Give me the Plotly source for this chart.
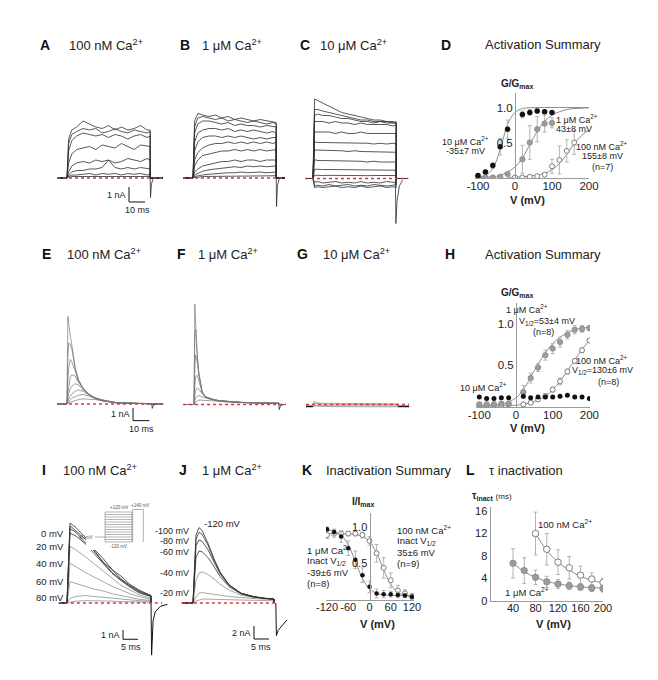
import plotly.graph_objects as go

W, H = 658, 680
FONT = "Liberation Sans, Arial, sans-serif"
INK = "#222222"
TRACE_DARK = "#2e2e2e"
TRACE_GRAY = "#767676"
FIT_GRAY = "#8c8c8c"
ERR_GRAY = "#b4b4b4"
AXIS_GRAY = "#9a9a9a"
RED = "#d23b3b"

# ── data ────────────────────────────────────────────────────────────────────

# A-C: activation sweeps, sample times (ms) of a 52 ms step, current (nA)
T_ACT = [0, 1, 3, 6, 10, 14, 18, 22, 26, 30, 34, 38, 42, 46, 50, 52]
A_SWEEPS = [
    [0, 2.6, 3.2, 3.4, 3.8, 3.6, 3.4, 3.3, 3.5, 3.2, 3.4, 3.2, 3.3, 3.5, 3.2, 3.2],
    [0, 2.3, 2.9, 3.1, 3.3, 3.2, 3.3, 3.0, 3.1, 3.3, 3.1, 3.0, 3.2, 3.1, 3.0, 3.1],
    [0, 1.8, 2.5, 2.8, 3.0, 2.9, 2.8, 2.9, 2.7, 2.9, 2.8, 2.6, 2.8, 2.9, 2.7, 2.8],
    [0, 1.0, 1.6, 1.9, 2.0, 2.1, 1.9, 2.2, 2.1, 2.0, 2.3, 2.1, 1.9, 2.2, 2.1, 2.1],
    [0, 0.4, 0.8, 1.0, 1.1, 1.0, 1.2, 1.1, 1.2, 1.0, 1.1, 1.3, 1.2, 1.1, 1.3, 1.2],
    [0, 0.2, 0.4, 0.5, 0.5, 0.6, 0.6, 0.7, 1.2, 0.7, 0.6, 0.7, 0.6, 0.7, 0.6, 0.6],
    [0, 0.1, 0.2, 0.2, 0.25, 0.3, 0.2, 0.3, 0.25, 0.3, 0.2, 0.3, 0.25, 0.3, 0.2, 0.25],
    [0, 0.05, 0.1, 0.1, 0.05, 0.1, 0.1, 0.05, 0.1, 0.1, 0.05, 0.1, 0.1, 0.1, 0.05, 0.1],
]
B_SWEEPS = [
    [0, 3.8, 4.3, 4.2, 4.1, 4.2, 4.0, 4.1, 3.9, 4.0, 3.9, 3.8, 3.9, 3.8, 3.7, 3.7],
    [0, 3.4, 4.0, 4.1, 4.0, 3.9, 4.0, 3.8, 3.9, 3.8, 3.7, 3.8, 3.7, 3.6, 3.7, 3.6],
    [0, 3.0, 3.6, 3.8, 3.8, 3.7, 3.6, 3.7, 3.5, 3.6, 3.5, 3.5, 3.4, 3.5, 3.4, 3.4],
    [0, 2.4, 3.0, 3.2, 3.3, 3.3, 3.2, 3.3, 3.1, 3.2, 3.1, 3.2, 3.1, 3.0, 3.1, 3.0],
    [0, 1.8, 2.4, 2.7, 2.8, 2.8, 2.7, 2.8, 2.7, 2.8, 2.7, 2.6, 2.7, 2.6, 2.7, 2.7],
    [0, 1.2, 1.7, 2.0, 2.2, 2.3, 2.3, 2.4, 2.3, 2.4, 2.3, 2.4, 2.3, 2.4, 2.3, 2.4],
    [0, 0.8, 1.2, 1.5, 1.6, 1.7, 1.8, 1.8, 1.9, 1.8, 1.9, 1.8, 1.9, 1.8, 1.9, 1.9],
    [0, 0.4, 0.6, 0.8, 0.9, 1.0, 1.1, 1.1, 1.2, 1.1, 1.2, 1.2, 1.1, 1.2, 1.2, 1.2],
    [0, 0.2, 0.3, 0.45, 0.55, 0.6, 0.7, 0.7, 0.75, 0.7, 0.8, 0.75, 0.8, 0.75, 0.8, 0.8],
    [0, 0.1, 0.15, 0.2, 0.25, 0.3, 0.3, 0.35, 0.35, 0.4, 0.35, 0.4, 0.4, 0.35, 0.4, 0.4],
    [0, 0.05, 0.05, 0.1, 0.1, 0.1, 0.15, 0.1, 0.15, 0.15, 0.1, 0.15, 0.15, 0.15, 0.1, 0.15],
]
C_SWEEPS = [
    [0, 5.3, 5.2, 5.0, 4.8, 4.6, 4.4, 4.3, 4.2, 4.1, 4.0, 3.9, 3.9, 3.8, 3.8, 3.7],
    [0, 4.6, 4.6, 4.5, 4.4, 4.3, 4.2, 4.1, 4.0, 3.9, 3.9, 3.8, 3.8, 3.8, 3.7, 3.8],
    [0, 4.2, 4.3, 4.2, 4.2, 4.1, 4.0, 4.0, 3.9, 3.8, 3.8, 3.7, 3.8, 3.7, 3.7, 3.7],
    [0, 3.8, 3.8, 3.8, 3.7, 3.8, 3.7, 3.7, 3.6, 3.7, 3.6, 3.6, 3.6, 3.6, 3.5, 3.6],
    [0, 3.1, 3.1, 3.1, 3.1, 3.0, 3.1, 3.0, 3.0, 3.1, 3.0, 3.0, 3.0, 3.0, 3.0, 3.0],
    [0, 2.45, 2.4, 2.4, 2.4, 2.35, 2.4, 2.35, 2.4, 2.35, 2.35, 2.3, 2.35, 2.3, 2.35, 2.3],
    [0, 1.9, 1.9, 1.85, 1.9, 1.85, 1.85, 1.8, 1.85, 1.8, 1.8, 1.8, 1.8, 1.75, 1.8, 1.75],
    [0, 1.25, 1.2, 1.2, 1.2, 1.2, 1.15, 1.2, 1.15, 1.15, 1.1, 1.15, 1.1, 1.1, 1.1, 1.1],
    [0, 0.62, 0.6, 0.6, 0.6, 0.6, 0.58, 0.6, 0.58, 0.58, 0.56, 0.58, 0.56, 0.56, 0.56, 0.55],
    [0, 0.22, 0.2, 0.2, 0.21, 0.2, 0.2, 0.19, 0.2, 0.2, 0.19, 0.2, 0.19, 0.2, 0.19, 0.2],
    [0, -0.25, -0.2, -0.3, -0.25, -0.2, -0.3, -0.25, -0.3, -0.2, -0.3, -0.25, -0.3, -0.2, -0.25, -0.3],
    [0, -0.5, -0.45, -0.5, -0.4, -0.5, -0.45, -0.4, -0.5, -0.45, -0.5, -0.4, -0.45, -0.5, -0.45, -0.4],
    [0, -0.6, -0.55, -0.6, -0.55, -0.5, -0.6, -0.55, -0.6, -0.5, -0.6, -0.55, -0.5, -0.6, -0.55, -0.6],
]
A_TAIL_T, A_TAIL_I = [52, 52.2, 52.8, 54], [0, -1.3, -0.4, 0]
B_TAIL_T, B_TAIL_I = [52, 52.2, 52.8, 54], [0, -1.9, -0.5, 0]
C_TAIL_T, C_TAIL_I = [51.5, 51.8, 52.5, 54, 56], [0, -3.0, -1.5, -0.5, -0.1]

# E-G: transient currents, sample times (ms), current (nA)
T_TRANS = [0, 0.5, 1, 2, 3, 5, 7, 10, 13, 17, 22, 30, 40, 52]
E_SWEEPS = [
    [0, 6.9, 6.3, 5.4, 4.6, 2.9, 1.9, 1.2, 0.8, 0.45, 0.25, 0.1, 0.05, 0.0],
    [0, 3.5, 4.8, 4.7, 4.3, 2.8, 1.9, 1.2, 0.8, 0.45, 0.25, 0.1, 0.05, 0.0],
    [0, 1.8, 2.8, 3.5, 3.3, 2.6, 1.8, 1.2, 0.8, 0.45, 0.25, 0.1, 0.05, 0.0],
    [0, 0.8, 1.4, 2.1, 2.3, 2.2, 1.7, 1.2, 0.8, 0.5, 0.25, 0.1, 0.05, 0.0],
    [0, 0.4, 0.8, 1.2, 1.4, 1.6, 1.5, 1.1, 0.8, 0.5, 0.3, 0.1, 0.05, 0.0],
    [0, 0.2, 0.4, 0.6, 0.8, 1.0, 1.1, 1.0, 0.75, 0.5, 0.3, 0.12, 0.05, 0.0],
    [0, 0.1, 0.2, 0.35, 0.45, 0.6, 0.7, 0.75, 0.65, 0.45, 0.3, 0.12, 0.05, 0.0],
    [0, 0.05, 0.1, 0.15, 0.2, 0.3, 0.35, 0.4, 0.4, 0.35, 0.25, 0.1, 0.05, 0.0],
]
F_SWEEPS = [
    [0, 7.9, 6.3, 3.9, 2.5, 1.0, 0.6, 0.45, 0.35, 0.28, 0.22, 0.16, 0.12, 0.1],
    [0, 5.5, 5.9, 3.8, 2.4, 1.0, 0.6, 0.45, 0.35, 0.28, 0.22, 0.16, 0.12, 0.1],
    [0, 3.0, 3.9, 3.3, 2.3, 1.0, 0.6, 0.45, 0.35, 0.28, 0.22, 0.16, 0.12, 0.1],
    [0, 1.5, 2.2, 2.3, 1.9, 0.95, 0.6, 0.45, 0.35, 0.28, 0.22, 0.16, 0.12, 0.1],
    [0, 0.7, 1.1, 1.3, 1.2, 0.85, 0.6, 0.45, 0.35, 0.28, 0.22, 0.16, 0.12, 0.1],
    [0, 0.3, 0.5, 0.65, 0.7, 0.6, 0.5, 0.4, 0.33, 0.27, 0.2, 0.15, 0.12, 0.1],
    [0, 0.1, 0.2, 0.3, 0.35, 0.35, 0.33, 0.3, 0.27, 0.22, 0.18, 0.14, 0.11, 0.1],
]
G_HOLD = -0.15
G_SWEEPS = [
    [-0.15, 0.25, 0.2, 0.15, 0.12, 0.1, 0.1, 0.08, 0.08, 0.06, 0.06, 0.05, 0.05, 0.05],
    [-0.15, 0.1, 0.08, 0.06, 0.05, 0.04, 0.03, 0.02, 0.02, 0.01, 0.0, 0.0, -0.01, -0.01],
    [-0.15, -0.05, -0.06, -0.06, -0.07, -0.08, -0.08, -0.09, -0.1, -0.1, -0.1, -0.1, -0.11, -0.11],
    [-0.15, -0.12, -0.13, -0.14, -0.15, -0.15, -0.16, -0.16, -0.17, -0.17, -0.17, -0.18, -0.18, -0.18],
]
E_TAIL_T, E_TAIL_I = [52, 52.3, 53, 55], [0, -0.35, -0.1, 0]
F_TAIL_T, F_TAIL_I = [52, 52.3, 53, 55], [0, -0.4, -0.1, 0]

# I-J: currents after prepulses, sample times (ms), current (nA)
T_I = [0, 1, 3, 6, 9, 12, 15, 18, 21, 24, 27, 28]
I_SWEEPS = [
    [0, 8.6, 8.1, 7.1, 5.8, 4.8, 3.6, 2.9, 2.0, 1.4, 0.9, 0.8],
    [0, 8.3, 7.7, 6.9, 5.7, 4.4, 3.6, 2.6, 1.9, 1.3, 0.9, 0.8],
    [0, 8.0, 7.6, 6.5, 5.6, 4.4, 3.3, 2.5, 1.8, 1.2, 0.8, 0.7],
    [0, 7.5, 7.2, 6.4, 5.3, 4.2, 3.2, 2.4, 1.7, 1.1, 0.8, 0.7],
    [0, 6.1, 5.7, 5.0, 4.2, 3.4, 2.6, 1.9, 1.4, 0.9, 0.6, 0.5],
    [0, 4.3, 3.9, 3.3, 2.8, 2.3, 1.8, 1.4, 1.0, 0.7, 0.5, 0.4],
    [0, 2.3, 2.1, 1.8, 1.5, 1.3, 1.0, 0.8, 0.6, 0.4, 0.3, 0.3],
    [0, 0.5, 0.7, 0.8, 0.7, 0.6, 0.5, 0.4, 0.3, 0.25, 0.2, 0.2],
    [0, 0.1, 0.2, 0.25, 0.25, 0.2, 0.2, 0.15, 0.12, 0.1, 0.1, 0.1],
]
I_LABELS = ["0 mV", "20 mV", "40 mV", "60 mV", "80 mV"]
I_LABEL_NA = [7.5, 6.1, 4.3, 2.26, 0.54]
I_TAIL_T = [28, 28.2, 28.7, 29.4, 31.1, 33.5]
I_TAIL_I = [0, -5.6, -1.9, -0.96, -0.36, -0.14]

T_J = [0, 1, 2, 3, 5, 7, 9, 12, 16, 20, 24, 27]
J_SWEEPS = [
    [0, 10.5, 11.6, 11.2, 9.2, 6.8, 4.8, 2.8, 1.5, 1.0, 0.7, 0.6],
    [0, 9.8, 10.9, 10.6, 8.9, 6.6, 4.7, 2.8, 1.5, 1.0, 0.7, 0.6],
    [0, 8.8, 9.7, 9.5, 8.2, 6.3, 4.5, 2.7, 1.5, 1.0, 0.7, 0.6],
    [0, 7.0, 8.0, 7.9, 7.0, 5.6, 4.1, 2.5, 1.4, 0.9, 0.7, 0.6],
    [0, 3.5, 4.6, 4.8, 4.4, 3.7, 2.9, 2.0, 1.2, 0.9, 0.7, 0.6],
    [0, 1.0, 1.5, 1.6, 1.5, 1.4, 1.2, 1.0, 0.8, 0.7, 0.6, 0.5],
    [0, 0.3, 0.5, 0.6, 0.6, 0.6, 0.55, 0.5, 0.45, 0.4, 0.4, 0.35],
]
J_LABELS = ["-100 mV", "-80 mV", "-60 mV", "-40 mV", "-20 mV"]
J_LABEL_NA = [11.15, 9.55, 7.9, 4.6, 1.5]
J_TAIL_T, J_TAIL_I = [27.6, 27.8, 28.4, 31.3], [0, -5.0, -4.2, -2.6]

# voltage protocol inset (mV)
PROTO_HOLD = -80
PROTO_STEPS = [-120, -100, -80, -60, -40, -20, 0, 20, 40, 60, 80, 100, 120]
PROTO_TEST = 140

# D: activation, 100 nM / 1 uM / 10 uM Ca2+
D_10UM_V = [-100, -80, -60, -40, -20, 20, 40, 60, 80, 100]
D_10UM_G = [0.03, 0.08, 0.17, 0.44, 0.69, 0.90, 0.93, 0.95, 0.94, 0.93]
D_10UM_E = [0.02, 0.02, 0.04, 0.12, 0.13, 0.05, 0.04, 0.03, 0.02, 0.02]
D_1UM_V = [-100, -80, -60, -40, -20, 20, 40, 60, 80, 100]
D_1UM_G = [0.0, 0.0, 0.0, 0.01, 0.05, 0.26, 0.50, 0.69, 0.77, 0.78]
D_1UM_E = [0, 0, 0, 0.01, 0.02, 0.20, 0.24, 0.18, 0.12, 0.07]
D_100NM_V = [0, 20, 40, 60, 80, 100, 120, 140, 160]
D_100NM_G = [0.0, 0.0, 0.01, 0.02, 0.04, 0.16, 0.25, 0.38, 0.50]
D_100NM_E = [0, 0, 0, 0.01, 0.02, 0.10, 0.20, 0.16, 0.17]
FIT_V = [-100, -80, -60, -40, -20, 0, 20, 40, 60, 80, 100, 120, 140, 160, 180, 200]
D_FIT_10UM = [0.01, 0.03, 0.13, 0.40, 0.76, 0.93, 0.985, 0.997, 1, 1, 1, 1, 1, 1, 1, 1]
D_FIT_1UM = [0.0, 0.005, 0.01, 0.03, 0.08, 0.15, 0.28, 0.47, 0.66, 0.80, 0.89, 0.94, 0.97, 0.985, 0.99, 0.995]
D_FIT_100NM = [0, 0, 0, 0, 0.002, 0.005, 0.01, 0.02, 0.035, 0.06, 0.11, 0.20, 0.33, 0.48, 0.60, 0.68]

# H: activation of the transient component
H_V = [-100, -80, -60, -40, -20, 20, 40, 60, 80, 100, 120, 140, 160, 180, 200]
H_10UM_G = [0.11, 0.09, 0.09, 0.10, 0.10, 0.12, 0.10, 0.11, 0.11, 0.11, 0.12, 0.13, 0.11, 0.11, 0.09]
H_1UM_G = [0.02, 0.02, 0.02, 0.03, 0.03, 0.17, 0.34, 0.47, 0.62, 0.70, 0.78, 0.87, 0.93, 0.94, 0.95]
H_1UM_E = [0, 0, 0, 0, 0, 0.08, 0.06, 0.05, 0.06, 0.06, 0.06, 0.05, 0.05, 0.04, 0.03]
H_100NM_G = [0.01, 0.01, 0.02, 0.01, 0.02, 0.02, 0.04, 0.08, 0.12, 0.20, 0.30, 0.42, 0.55, 0.68, 0.80]
H_100NM_E = [0, 0, 0, 0, 0, 0.02, 0.02, 0.02, 0.03, 0.03, 0.04, 0.03, 0.03, 0.03, 0.02]
H_FIT_1UM = [0.0, 0.005, 0.01, 0.02, 0.05, 0.10, 0.20, 0.35, 0.51, 0.65, 0.76, 0.84, 0.89, 0.93, 0.95, 0.96]
H_FIT_100NM = [0, 0, 0, 0, 0.005, 0.01, 0.02, 0.04, 0.07, 0.12, 0.20, 0.30, 0.43, 0.56, 0.69, 0.80]

# K: steady-state inactivation
K_V = [-120, -100, -80, -60, -40, -20, 0, 20, 40, 60, 80, 100, 120]
K_100NM = [0.89, 0.91, 0.91, 0.91, 0.91, 0.89, 0.81, 0.64, 0.44, 0.27, 0.13, 0.09, 0.05]
K_100NM_E = [0.05, 0.05, 0.04, 0.03, 0.03, 0.04, 0.06, 0.12, 0.14, 0.10, 0.07, 0.05, 0.04]
K_1UM = [0.97, 0.93, 0.87, 0.71, 0.55, 0.34, 0.18, 0.09, 0.08, 0.08, 0.07, 0.06, 0.045]
K_1UM_E = [0.03, 0.04, 0.08, 0.10, 0.12, 0.10, 0.08, 0.06, 0.05, 0.04, 0.04, 0.03, 0.03]
K_FIT_100NM = [0.91, 0.91, 0.908, 0.905, 0.897, 0.871, 0.80, 0.646, 0.415, 0.214, 0.106, 0.063, 0.048]
K_FIT_1UM = [0.96, 0.94, 0.886, 0.754, 0.528, 0.295, 0.154, 0.093, 0.071, 0.064, 0.061, 0.06, 0.06]

# L: inactivation time constant (ms)
L_100NM_V = [80, 100, 120, 140, 160, 180, 200]
L_100NM_TAU = [12.0, 9.2, 6.9, 5.9, 4.6, 3.9, 3.3]
L_100NM_E = [3.8, 2.8, 2.2, 2.0, 1.6, 1.1, 0.8]
L_100NM_FIT = [12.0, 9.0, 6.9, 5.5, 4.4, 3.7, 3.2]
L_1UM_V = [40, 60, 80, 100, 120, 140, 160, 180, 200]
L_1UM_TAU = [6.7, 5.4, 4.2, 3.4, 3.0, 2.7, 2.5, 2.3, 2.2]
L_1UM_E = [2.6, 2.3, 1.3, 1.0, 0.8, 0.7, 0.6, 0.6, 0.6]
L_1UM_FIT = [6.7, 5.2, 4.2, 3.5, 3.05, 2.75, 2.5, 2.4, 2.3]

# ── layout helpers ───────────────────────────────────────────────────────────

fig = go.Figure()
layout = {}
annotations = []
shapes = []


def refs(n):
    s = "" if n == 1 else str(n)
    return "x" + s, "y" + s


def place(n, left, right, top, bottom, x0, sx, y0, sy, visible=False, **kw):
    """Pixel box -> axis domain; x0/y0 are the pixel positions of data 0."""
    s = "" if n == 1 else str(n)
    xr = [(left - x0) / sx, (right - x0) / sx]
    yr = [(y0 - bottom) / sy, (y0 - top) / sy]
    xa = dict(domain=[left / W, right / W], range=xr, visible=visible,
              fixedrange=True, showgrid=False, zeroline=False, anchor="y" + s)
    ya = dict(domain=[1 - bottom / H, 1 - top / H], range=yr, visible=visible,
              fixedrange=True, showgrid=False, zeroline=False, anchor="x" + s)
    xa.update(kw.get("xkw", {}))
    ya.update(kw.get("ykw", {}))
    layout["xaxis" + s] = xa
    layout["yaxis" + s] = ya


def text(x, y, s, size=13, anchor="center", color=INK, n=None, yanchor="middle",
         xshift=0, yshift=0):
    if n is None:
        xr, yr, x, y = "paper", "paper", x / W, 1 - y / H
    else:
        xr, yr = refs(n)
    annotations.append(dict(x=x, y=y, xref=xr, yref=yr, text=s, showarrow=False,
                            xanchor=anchor, yanchor=yanchor, xshift=xshift, yshift=yshift,
                            font=dict(family=FONT, size=size, color=color)))


def line(n, x, y, color=TRACE_DARK, width=0.8, dash="solid", shape="linear"):
    xr, yr = refs(n)
    fig.add_trace(go.Scatter(x=x, y=y, xaxis=xr, yaxis=yr, mode="lines",
                             line=dict(color=color, width=width, dash=dash, shape=shape),
                             hoverinfo="skip", showlegend=False))


def sweeps(n, times, data, start, end=None, hold=0.0, color=TRACE_DARK, width=0.8):
    for s in data:
        x = [start, times[0]] + list(times) + [times[-1]]
        y = [hold, hold] + list(s) + [hold]
        if end is not None:
            x.append(end)
            y.append(hold)
        line(n, x, y, color=color, width=width)


def baseline(n, start, end):
    line(n, [start, end], [0, 0], color=RED, width=1.3, dash="dot")


def scalebar(n, t0, i0, dt, di, ilabel, tlabel):
    xr, yr = refs(n)
    for (xa, ya, xb, yb) in [(t0, i0, t0, i0 - di), (t0, i0 - di, t0 + dt, i0 - di)]:
        shapes.append(dict(type="line", xref=xr, yref=yr, x0=xa, y0=ya, x1=xb, y1=yb,
                           line=dict(color="#111111", width=1)))
    text(t0, i0 - di / 2, ilabel, size=9, anchor="right", n=n, xshift=-1)
    text(t0 + dt / 2, i0 - di, tlabel, size=9, n=n, yanchor="top", yshift=-1)


def points(n, x, y, err=None, kind="black", size=5.5):
    xr, yr = refs(n)
    if kind == "black":
        m = dict(color="#111111", size=size - 0.5, line=dict(width=0))
    elif kind == "gray":
        m = dict(color="#9c9c9c", size=size, line=dict(color="#7c7c7c", width=0.6))
    else:
        m = dict(color="white", size=size, line=dict(color="#7c7c7c", width=1))
    ey = dict(type="data", array=err, color=ERR_GRAY, thickness=1, width=2) if err else None
    fig.add_trace(go.Scatter(x=x, y=y, xaxis=xr, yaxis=yr, mode="markers", marker=m,
                             error_y=ey, hoverinfo="skip", showlegend=False))


def summary_axes(n, left, right, top, bottom, x0, sx, y0, sy, xt, yt, yfree=True, tsize=11.5):
    tick = dict(family=FONT, size=tsize, color=INK)
    common = dict(visible=True, showline=True, linecolor=AXIS_GRAY, linewidth=1,
                  ticks="", tickfont=tick, tickmode="array", tickangle=0,
                  ticklabeloverflow="allow", automargin=False)
    xkw = dict(common, tickvals=xt, ticktext=[str(v) for v in xt], ticklabelstandoff=-3)
    ylab = [str(v) if isinstance(v, int) else "%.1f" % v for v in yt]
    ykw = dict(common, tickvals=yt, ticktext=ylab)
    if yfree:
        ykw.update(anchor="free", position=x0 / W)
    place(n, left, right, top, bottom, x0, sx, y0, sy, xkw=xkw, ykw=ykw)


# ── raw current panels ───────────────────────────────────────────────────────

# A
place(1, 50, 170, 90, 230, 67, 1.6, 178, 15)
sweeps(1, T_ACT, A_SWEEPS, -6.25, 60)
line(1, A_TAIL_T, A_TAIL_I)
baseline(1, -6.25, 60)
scalebar(1, 38.75, -0.6, 10, 1, "1 nA", "10 ms")
# B
place(2, 175, 295, 90, 230, 193, 1.6, 178, 15)
sweeps(2, T_ACT, B_SWEEPS, -6.25, 57.5)
line(2, B_TAIL_T, B_TAIL_I)
baseline(2, -6.25, 57.5)
# C
place(3, 298, 415, 85, 235, 313, 1.6, 178.5, 15)
sweeps(3, T_ACT, C_SWEEPS, -5, 59.4)
line(3, C_TAIL_T, C_TAIL_I)
baseline(3, -5, 59.4)

# E
place(4, 50, 170, 300, 440, 67, 1.63, 404, 12.7)
sweeps(4, T_TRANS, E_SWEEPS, -6.1, 59, color=TRACE_GRAY, width=0.7)
line(4, E_TAIL_T, E_TAIL_I, color=TRACE_DARK)
baseline(4, -6.1, 59)
scalebar(4, 40.5, -0.31, 10, 1, "1 nA", "10 ms")
# F
place(5, 175, 295, 290, 440, 194, 1.63, 404.5, 12.7)
sweeps(5, T_TRANS, F_SWEEPS, -6.7, 56.4, color=TRACE_GRAY, width=0.7)
line(5, F_TAIL_T, F_TAIL_I, color=TRACE_DARK)
baseline(5, -6.7, 56.4)
# G
place(6, 298, 415, 380, 440, 313, 1.63, 404.5, 12.7)
line(6, [-4.3, 0], [G_HOLD, G_HOLD], color="#111111", width=1.6)
line(6, [52, 59], [G_HOLD, G_HOLD], color="#111111", width=1.6)
sweeps(6, T_TRANS, G_SWEEPS, 0, 52, hold=G_HOLD, color="#8a8a8a", width=0.7)
baseline(6, -4.3, 58.9)

# I
place(7, 50, 175, 505, 665, 67, 3, 603, 9.3)
sweeps(7, T_I, I_SWEEPS[4:], -2.7, color="#808080", width=0.7)
sweeps(7, T_I, I_SWEEPS[:4], -2.7, color=TRACE_DARK, width=0.8)
line(7, I_TAIL_T, I_TAIL_I, color="#111111", width=1)
baseline(7, -2.7, 31.7)
scalebar(7, 18.67, -2.9, 5, 1, "1 nA", "5 ms")
for lab, v in zip(I_LABELS, I_LABEL_NA):
    text(-0.2, v, lab, size=9.5, anchor="right", n=7)
# J
place(8, 178, 295, 505, 665, 193, 3, 603, 6.5)
sweeps(8, T_J, J_SWEEPS[4:], -3.7, color="#808080", width=0.7)
sweeps(8, T_J, J_SWEEPS[:4], -3.7, color=TRACE_DARK, width=0.8)
line(8, J_TAIL_T, J_TAIL_I, color="#111111", width=1)
baseline(8, -3.7, 27.3)
scalebar(8, 20.33, -3.54, 5, 2, "2 nA", "5 ms")
text(3, 12.3, "-120 mV", size=9.5, anchor="left", n=8)
for lab, v in zip(J_LABELS, J_LABEL_NA):
    text(-0.6, v, lab, size=9, anchor="right", n=8)

# voltage protocol inset
place(9, 86, 152, 500, 550, 95, 1, 527, 0.125)
PC = "#808080"
line(9, [0, 10], [PROTO_HOLD, PROTO_HOLD], color=PC, width=0.6)
for v in PROTO_STEPS:
    line(9, [10, 37], [v, v], color=PC, width=0.6)
line(9, [10, 10], [min(PROTO_STEPS), max(PROTO_STEPS)], color=PC, width=0.6)
line(9, [37, 37], [min(PROTO_STEPS), max(PROTO_STEPS)], color=PC, width=0.6)
line(9, [37.7, 37.7, 48.3, 48.3], [min(PROTO_STEPS), PROTO_TEST, PROTO_TEST, min(PROTO_STEPS)],
     color=PC, width=0.6)
text(-0.5, PROTO_HOLD, "-80 mV", size=4.5, anchor="right", n=9, color="#555")
text(23.5, max(PROTO_STEPS), "+120 mV", size=4.5, n=9, yanchor="bottom", color="#555")
text(23.5, min(PROTO_STEPS), "-120 mV", size=4.5, n=9, yanchor="top", color="#555")
text(45, PROTO_TEST, "+140 mV", size=4.5, n=9, yanchor="bottom", color="#555")

# ── summary panels ───────────────────────────────────────────────────────────

# D
summary_axes(10, 475, 589, 93, 178, 515, 0.37, 177.5, 70, [-100, 0, 100, 200], [0.5, 1.0])
line(10, FIT_V, D_FIT_10UM, color=FIT_GRAY, width=1, shape="spline")
line(10, FIT_V, D_FIT_1UM, color=FIT_GRAY, width=1, shape="spline")
line(10, FIT_V[4:], D_FIT_100NM[4:], color=FIT_GRAY, width=1, shape="spline")
points(10, D_100NM_V, D_100NM_G, D_100NM_E, kind="open", size=5)
points(10, D_1UM_V, D_1UM_G, D_1UM_E, kind="gray", size=5.5)
points(10, D_10UM_V, D_10UM_G, D_10UM_E, kind="black", size=6)
text(517, 84, "<b>G/G<sub>max</sub></b>", size=10)
text(527, 200, "<b>V (mV)</b>", size=11)
text(465, 141, "10 μM Ca<sup>2+</sup>", size=9)
text(465, 151, "-35±7 mV", size=9)
text(577, 119, "1 μM Ca<sup>2+</sup>", size=9)
text(574, 129, "43±8 mV", size=9)
text(602, 146, "100 nM Ca<sup>2+</sup>", size=9)
text(602, 156, "155±8 mV", size=9)
text(602, 167, "(n=7)", size=9)

# H
summary_axes(11, 476, 590, 303, 407, 516, 0.367, 406, 82, [-100, 0, 100, 200], [0.5, 1.0])
line(11, FIT_V, H_FIT_1UM, color=FIT_GRAY, width=1, shape="spline")
line(11, FIT_V, H_FIT_100NM, color=FIT_GRAY, width=1, shape="spline")
points(11, H_V, H_100NM_G, H_100NM_E, kind="open", size=5)
points(11, H_V, H_1UM_G, H_1UM_E, kind="gray", size=5.5)
points(11, H_V, H_10UM_G, None, kind="black", size=5.5)
text(517, 293, "<b>G/G<sub>max</sub></b>", size=10)
text(527, 428, "<b>V (mV)</b>", size=11)
text(527, 309, "1 μM Ca<sup>2+</sup>", size=9)
text(517, 321, "V<sub>1/2</sub>=53±4 mV", size=9, anchor="left")
text(543, 332, "(n=8)", size=9)
text(602, 360, "100 nM Ca<sup>2+</sup>", size=9)
text(602, 371, "V<sub>1/2</sub>=130±6 mV", size=9)
text(608, 382, "(n=8)", size=9)
text(483, 387, "10 μM Ca<sup>2+</sup>", size=9)

# K
summary_axes(12, 326, 414, 513, 600, 369.5, 0.354, 600, 73, [-120, -60, 0, 60, 120], [0.5, 1.0],
             tsize=11)
line(12, K_V, K_FIT_100NM, color=FIT_GRAY, width=1, shape="spline")
line(12, K_V, K_FIT_1UM, color=FIT_GRAY, width=1, shape="spline")
points(12, K_V, K_100NM, K_100NM_E, kind="open", size=5)
points(12, K_V, K_1UM, K_1UM_E, kind="black", size=5)
text(363, 502, "<b>I/I<sub>max</sub></b>", size=10)
text(377, 624, "<b>V (mV)</b>", size=11)
for i, s in enumerate(["100 nM Ca<sup>2+</sup>", "Inact V<sub>1/2</sub>", "35±6 mV", "(n=9)"]):
    text(395, 530 + 11 * i, s, size=9.5, anchor="left")
for i, s in enumerate(["1 μM Ca<sup>2+</sup>", "Inact V<sub>1/2</sub>", "-39±6 mV", "(n=8)"]):
    text(305, 550 + 11 * i, s, size=9.5, anchor="left")

# L
summary_axes(13, 490.5, 603, 507, 601, 490.5, 0.5625, 601, 5.625,
             [40, 80, 120, 160, 200], [0, 4, 8, 12, 16], yfree=False, tsize=11)
line(13, L_100NM_V, L_100NM_FIT, color=FIT_GRAY, width=1, shape="spline")
line(13, L_1UM_V, L_1UM_FIT, color=FIT_GRAY, width=1, shape="spline")
points(13, L_100NM_V, L_100NM_TAU, L_100NM_E, kind="open", size=6.5)
points(13, L_1UM_V, L_1UM_TAU, L_1UM_E, kind="gray", size=6.5)
text(492, 496, "<b>τ<sub>inact</sub></b> <span style='font-size:8px'>(ms)</span>", size=10)
text(553, 624, "<b>V (mV)</b>", size=11)
text(565, 524, "100 nM Ca<sup>2+</sup>", size=9.5)
text(527, 592, "1 μM Ca<sup>2+</sup>", size=9.5)

# ── panel headings ───────────────────────────────────────────────────────────

HEADINGS = [
    (45, 45, "A", 67, "100 nM Ca<sup>2+</sup>"), (185, 45, "B", 200, "1 μM Ca<sup>2+</sup>"),
    (305, 45, "C", 318, "10 μM Ca<sup>2+</sup>"), (446, 45, "D", 483, "Activation Summary"),
    (46, 254, "E", 65, "100 nM Ca<sup>2+</sup>"), (181, 254, "F", 196, "1 μM Ca<sup>2+</sup>"),
    (302, 254, "G", 321, "10 μM Ca<sup>2+</sup>"), (450, 254, "H", 483, "Activation Summary"),
    (44, 470, "I", 61, "100 nM Ca<sup>2+</sup>"), (183, 470, "J", 200, "1 μM Ca<sup>2+</sup>"),
    (307, 470, "K", 324, "Inactivation Summary"), (470, 470, "L", 487, "τ inactivation"),
]
for lx, ly, letter, tx, label in HEADINGS:
    text(lx, ly, "<b>%s</b>" % letter, size=14, color="#111111")
    text(tx, ly, label, size=13, anchor="left")

layout.update(
    width=W, height=H, margin=dict(l=0, r=0, t=0, b=0),
    paper_bgcolor="white", plot_bgcolor="white", showlegend=False,
    annotations=annotations, shapes=shapes, font=dict(family=FONT, color=INK),
)
fig.update_layout(**layout)

fig.write_html("out.html", config={"displayModeBar": False},
               post_script="document.body.style.margin='0';")
